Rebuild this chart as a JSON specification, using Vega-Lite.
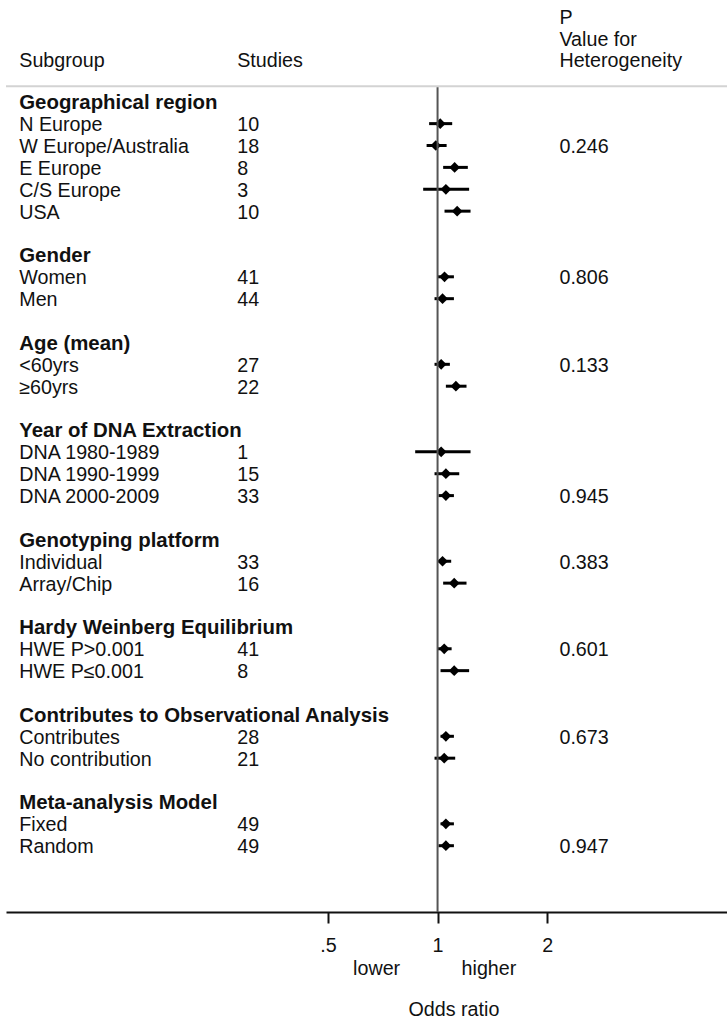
{
  "$schema": "https://vega.github.io/schema/vega-lite/v6.json",
  "autosize": "none",
  "width": 721,
  "height": 912,
  "padding": {"left": 6, "top": 0, "right": 0, "bottom": 110},
  "background": "white",
  "config": {
    "view": {"stroke": null},
    "font": "Liberation Sans",
    "text": {"font": "Liberation Sans", "fontSize": 19.7, "color": "#111111", "align": "left", "baseline": "middle", "dy": 1.5}
  },
  "datasets": {
    "rows": [
      {"row": 0, "label": "Geographical region", "kind": "header"},
      {"row": 1, "label": "N Europe", "kind": "item", "studies": 10, "or": 1.017, "lo": 0.948, "hi": 1.097},
      {"row": 2, "label": "W Europe/Australia", "kind": "item", "studies": 18, "or": 0.989, "lo": 0.933, "hi": 1.059, "p": "0.246"},
      {"row": 3, "label": "E Europe", "kind": "item", "studies": 8, "or": 1.114, "lo": 1.036, "hi": 1.211},
      {"row": 4, "label": "C/S Europe", "kind": "item", "studies": 3, "or": 1.054, "lo": 0.913, "hi": 1.221},
      {"row": 5, "label": "USA", "kind": "item", "studies": 10, "or": 1.132, "lo": 1.045, "hi": 1.232},
      {"row": 7, "label": "Gender", "kind": "header"},
      {"row": 8, "label": "Women", "kind": "item", "studies": 41, "or": 1.045, "lo": 1.002, "hi": 1.109, "p": "0.806"},
      {"row": 9, "label": "Men", "kind": "item", "studies": 44, "or": 1.032, "lo": 0.981, "hi": 1.109},
      {"row": 11, "label": "Age (mean)", "kind": "header"},
      {"row": 12, "label": "<60yrs", "kind": "item", "studies": 27, "or": 1.023, "lo": 0.981, "hi": 1.081, "p": "0.133"},
      {"row": 13, "label": "≥60yrs", "kind": "item", "studies": 22, "or": 1.123, "lo": 1.054, "hi": 1.201},
      {"row": 15, "label": "Year of DNA Extraction", "kind": "header"},
      {"row": 16, "label": "DNA 1980-1989", "kind": "item", "studies": 1, "or": 1.023, "lo": 0.868, "hi": 1.232},
      {"row": 17, "label": "DNA 1990-1999", "kind": "item", "studies": 15, "or": 1.054, "lo": 0.981, "hi": 1.147},
      {"row": 18, "label": "DNA 2000-2009", "kind": "item", "studies": 33, "or": 1.054, "lo": 1.006, "hi": 1.109, "p": "0.945"},
      {"row": 20, "label": "Genotyping platform", "kind": "header"},
      {"row": 21, "label": "Individual", "kind": "item", "studies": 33, "or": 1.032, "lo": 1.006, "hi": 1.090, "p": "0.383"},
      {"row": 22, "label": "Array/Chip", "kind": "item", "studies": 16, "or": 1.111, "lo": 1.036, "hi": 1.201},
      {"row": 24, "label": "Hardy Weinberg Equilibrium", "kind": "header"},
      {"row": 25, "label": "HWE P>0.001", "kind": "item", "studies": 41, "or": 1.043, "lo": 1.002, "hi": 1.093, "p": "0.601"},
      {"row": 26, "label": "HWE P≤0.001", "kind": "item", "studies": 8, "or": 1.111, "lo": 1.019, "hi": 1.221},
      {"row": 28, "label": "Contributes to Observational Analysis", "kind": "header"},
      {"row": 29, "label": "Contributes", "kind": "item", "studies": 28, "or": 1.054, "lo": 1.019, "hi": 1.109, "p": "0.673"},
      {"row": 30, "label": "No contribution", "kind": "item", "studies": 21, "or": 1.043, "lo": 0.981, "hi": 1.118},
      {"row": 32, "label": "Meta-analysis Model", "kind": "header"},
      {"row": 33, "label": "Fixed", "kind": "item", "studies": 49, "or": 1.054, "lo": 1.019, "hi": 1.109},
      {"row": 34, "label": "Random", "kind": "item", "studies": 49, "or": 1.054, "lo": 1.006, "hi": 1.109, "p": "0.947"}
    ]
  },
  "layer": [
    {
      "data": {"name": "rows"},
      "transform": [{"filter": "datum.kind == 'item'"}],
      "mark": {"type": "rule", "color": "black", "strokeWidth": 3},
      "encoding": {
        "x": {
          "field": "lo", "type": "quantitative",
          "scale": {"type": "log", "domain": [0.0652, 6.241], "nice": false, "zero": false},
          "axis": {
            "values": [0.5, 1, 2],
            "labelExpr": "datum.value == 0.5 ? '.5' : format(datum.value, 'd')",
            "title": null, "grid": false,
            "domainColor": "#111111", "domainWidth": 2,
            "tickColor": "#111111", "tickWidth": 2, "tickSize": 11,
            "labelPadding": 12, "labelFontSize": 19.7, "labelColor": "#111111",
            "labelFont": "Liberation Sans", "labelFlush": false
          }
        },
        "x2": {"field": "hi"},
        "y": {"field": "row", "type": "quantitative", "scale": {"domain": [-4.65, 37.03], "reverse": true, "nice": false, "zero": false}, "axis": null}
      }
    },
    {
      "data": {"name": "rows"},
      "transform": [{"filter": "datum.kind == 'item'"}],
      "mark": {"type": "point", "shape": "diamond", "filled": true, "color": "black", "size": 115, "opacity": 1},
      "encoding": {
        "x": {"field": "or", "type": "quantitative"},
        "y": {"field": "row", "type": "quantitative", "axis": null}
      }
    },
    {
      "data": {"values": [{}]},
      "mark": {"type": "rule", "color": "#d3d3d3", "strokeWidth": 2},
      "encoding": {"y": {"datum": -0.71, "type": "quantitative", "axis": null}}
    },
    {
      "data": {"values": [{}]},
      "mark": {"type": "rule", "color": "#555555", "strokeWidth": 2},
      "encoding": {
        "x": {"datum": 1, "type": "quantitative"},
        "y": {"datum": -0.66, "type": "quantitative", "axis": null},
        "y2": {"datum": 37.03}
      }
    },
    {
      "data": {"name": "rows"},
      "transform": [{"filter": "datum.kind == 'header'"}],
      "mark": {"type": "text", "fontWeight": "bold", "fontSize": 20.4},
      "encoding": {
        "x": {"datum": 0.0709, "type": "quantitative"},
        "y": {"field": "row", "type": "quantitative", "axis": null},
        "text": {"field": "label"}
      }
    },
    {
      "data": {"name": "rows"},
      "transform": [{"filter": "datum.kind == 'item'"}],
      "mark": {"type": "text"},
      "encoding": {
        "x": {"datum": 0.0709, "type": "quantitative"},
        "y": {"field": "row", "type": "quantitative", "axis": null},
        "text": {"field": "label"}
      }
    },
    {
      "data": {"name": "rows"},
      "transform": [{"filter": "datum.kind == 'item'"}],
      "mark": {"type": "text"},
      "encoding": {
        "x": {"datum": 0.2815, "type": "quantitative"},
        "y": {"field": "row", "type": "quantitative", "axis": null},
        "text": {"field": "studies"}
      }
    },
    {
      "data": {"name": "rows"},
      "transform": [{"filter": "isValid(datum.p)"}],
      "mark": {"type": "text"},
      "encoding": {
        "x": {"datum": 2.162, "type": "quantitative"},
        "y": {"field": "row", "type": "quantitative", "axis": null},
        "text": {"field": "p"}
      }
    },
    {
      "data": {"values": [{}]},
      "mark": {"type": "text", "text": "Subgroup"},
      "encoding": {"x": {"datum": 0.0709, "type": "quantitative"}, "y": {"datum": -1.91, "type": "quantitative", "axis": null}}
    },
    {
      "data": {"values": [{}]},
      "mark": {"type": "text", "text": "Studies"},
      "encoding": {"x": {"datum": 0.2815, "type": "quantitative"}, "y": {"datum": -1.91, "type": "quantitative", "axis": null}}
    },
    {
      "data": {"values": [{}]},
      "mark": {"type": "text", "text": "P"},
      "encoding": {"x": {"datum": 2.162, "type": "quantitative"}, "y": {"datum": -3.9, "type": "quantitative", "axis": null}}
    },
    {
      "data": {"values": [{}]},
      "mark": {"type": "text", "text": "Value for"},
      "encoding": {"x": {"datum": 2.162, "type": "quantitative"}, "y": {"datum": -2.9, "type": "quantitative", "axis": null}}
    },
    {
      "data": {"values": [{}]},
      "mark": {"type": "text", "text": "Heterogeneity"},
      "encoding": {"x": {"datum": 2.162, "type": "quantitative"}, "y": {"datum": -1.91, "type": "quantitative", "axis": null}}
    },
    {
      "data": {"values": [{}]},
      "mark": {"type": "text", "text": "lower", "align": "center"},
      "encoding": {"x": {"datum": 0.680, "type": "quantitative"}, "y": {"datum": 39.57, "type": "quantitative", "axis": null}}
    },
    {
      "data": {"values": [{}]},
      "mark": {"type": "text", "text": "higher", "align": "center"},
      "encoding": {"x": {"datum": 1.384, "type": "quantitative"}, "y": {"datum": 39.57, "type": "quantitative", "axis": null}}
    },
    {
      "data": {"values": [{}]},
      "mark": {"type": "text", "text": "Odds ratio", "align": "center"},
      "encoding": {"x": {"datum": 1.109, "type": "quantitative"}, "y": {"datum": 41.42, "type": "quantitative", "axis": null}}
    }
  ]
}
